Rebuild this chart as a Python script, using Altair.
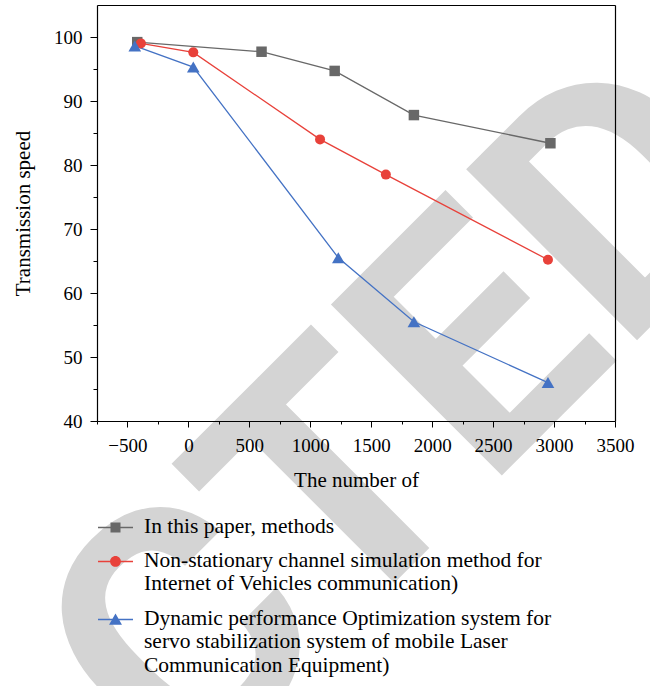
import altair as alt
import pandas as pd

# ---------------- data ----------------
SERIES = [
    "In this paper, methods",
    "Non-stationary channel simulation method for\nInternet of Vehicles communication)",
    "Dynamic performance Optimization system for\nservo stabilization system of mobile Laser\nCommunication Equipment)",
]
COLORS = ["#686868", "#e8413a", "#4472c4"]
MARKERS = ["square", "circle", "triangle-up"]
MARKER_SIZES = [110, 100, 160]

x_paper = [-420, 600, 1200, 1850, 2970]
y_paper = [99.2, 97.7, 94.7, 87.8, 83.4]

x_channel = [-390, 40, 1080, 1620, 2950]
y_channel = [99.0, 97.6, 84.0, 78.5, 65.2]

x_laser = [-440, 40, 1230, 1850, 2950]
y_laser = [98.6, 95.3, 65.5, 55.5, 46.0]

X_TICKS = [-500, 0, 500, 1000, 1500, 2000, 2500, 3000, 3500]
X_MINOR = [-750, -250, 250, 750, 1250, 1750, 2250, 2750, 3250]
Y_TICKS = [40, 50, 60, 70, 80, 90, 100]
Y_MINOR = [45, 55, 65, 75, 85, 95]
X_DOMAIN = [-750, 3500]
Y_DOMAIN = [40, 105]

X_TITLE = "The number of"
Y_TITLE = "Transmission speed"
WATERMARK = ["RETRACTED"]

rows = []
for s, xs_, ys_ in zip(SERIES, [x_paper, x_channel, x_laser], [y_paper, y_channel, y_laser]):
    for xv, yv in zip(xs_, ys_):
        rows.append({"x": xv, "y": yv, "series": s})
df = pd.DataFrame(rows)
wm = pd.DataFrame({"label": WATERMARK})

FONT = "Liberation Serif"
W, H = 518, 416

# legend symbols: line + marker in one custom path (unit box -1..1)
LEG_LINE = "M-1,-0.33H1V-0.25H-1Z "
LEG_SHAPES = [
    LEG_LINE + "M-0.286,-0.576H0.286V-0.004H-0.286Z",
    LEG_LINE + "M-0.31,-0.29A0.31,0.31 0 1,1 0.31,-0.29A0.31,0.31 0 1,1 -0.31,-0.29Z",
    LEG_LINE + "M0,-0.63L0.37,0.02L-0.37,0.02Z",
]

xs = alt.Scale(domain=X_DOMAIN, nice=False, zero=False)
ys = alt.Scale(domain=Y_DOMAIN, nice=False, zero=False)
cs = alt.Scale(domain=SERIES, range=COLORS)

main_x_axis = alt.Axis(
    orient="bottom", values=X_TICKS, format="d", tickSize=6, tickColor="black", tickWidth=1,
    domainColor="black", domainWidth=1.2, labelFont=FONT, labelFontSize=19, labelFlush=False,
    labelColor="black", labelPadding=9, grid=False, title=X_TITLE,
    titleFont=FONT, titleFontSize=21, titleFontWeight="normal", titleColor="black",
    titlePadding=14, zindex=1,
)
main_y_axis = alt.Axis(
    orient="left", values=Y_TICKS, format="d", tickSize=7, tickColor="black", tickWidth=1,
    domainColor="black", domainWidth=1.2, labelFont=FONT, labelFontSize=19, labelFlush=False,
    labelColor="black", labelPadding=8, grid=False, title=Y_TITLE,
    titleFont=FONT, titleFontSize=21, titleFontWeight="normal", titleColor="black",
    titlePadding=20, zindex=1,
)

watermark = alt.Chart(wm).mark_text(
    font="Roboto", fontWeight="bold", fontSize=340, color="#d4d4d4",
    angle=315, align="right", baseline="middle",
).encode(text="label:N", x=alt.value(609), y=alt.value(122))

color_enc = alt.Color("series:N", scale=cs, title=None, legend=alt.Legend(
    orient="none", legendX=1, legendY=510, direction="vertical", title=None,
    labelFont=FONT, labelFontSize=21.5, labelColor="black", labelLimit=700,
    labelExpr="split(datum.label, '\\n')", labelBaseline="alphabetic",
    labelOffset=11, symbolSize=1225, symbolStrokeWidth=0, rowPadding=12,
    padding=0, zindex=1,
))

lines = alt.Chart(df).mark_line(strokeWidth=1.3).encode(
    x=alt.X("x:Q", scale=xs, axis=main_x_axis),
    y=alt.Y("y:Q", scale=ys, axis=main_y_axis),
    color=color_enc,
    detail="series:N",
)

point_layers = []
for s, m, sz in zip(SERIES, MARKERS, MARKER_SIZES):
    point_layers.append(
        alt.Chart(df).transform_filter(alt.datum.series == s)
        .mark_point(filled=True, opacity=1, shape=m, size=sz)
        .encode(
            x=alt.X("x:Q", scale=xs, axis=None),
            y=alt.Y("y:Q", scale=ys, axis=None),
            color=color_enc,
        )
    )

minor = alt.Chart(df).mark_point(opacity=0).encode(
    x=alt.X("x:Q", scale=xs, axis=alt.Axis(orient="bottom", values=X_MINOR, tickSize=3, tickColor="black",
                                          labels=False, domain=False, grid=False, title=None, zindex=1)),
    y=alt.Y("y:Q", scale=ys, axis=alt.Axis(orient="left", values=Y_MINOR, tickSize=4, tickColor="black",
                                          labels=False, domain=False, grid=False, title=None, zindex=1)),
)

frame = alt.Chart(df).mark_point(opacity=0).encode(
    x=alt.X("x:Q", scale=xs, axis=alt.Axis(orient="top", ticks=False, labels=False, domainColor="black",
                                          domainWidth=1.2, grid=False, title=None, zindex=1)),
    y=alt.Y("y:Q", scale=ys, axis=alt.Axis(orient="right", ticks=False, labels=False, domainColor="black",
                                          domainWidth=1.2, grid=False, title=None, zindex=1)),
)

legend_layer = alt.Chart(df).mark_point(filled=True, opacity=0).encode(
    x=alt.X("x:Q", scale=xs, axis=None),
    y=alt.Y("y:Q", scale=ys, axis=None),
    color=color_enc,
    shape=alt.Shape("series:N", scale=alt.Scale(domain=SERIES, range=LEG_SHAPES), title=None),
)

chart = alt.layer(watermark, lines, *point_layers, minor, frame, legend_layer).resolve_axis(
    x="independent", y="independent"
).properties(
    width=W, height=H,
    autosize=alt.AutoSizeParams(type="none"),
    padding={"left": 97, "top": 5, "right": 35, "bottom": 265},
).configure_view(stroke=None).configure(background="white")

chart.save("out.html", embed_options={"renderer": "svg", "actions": False})
